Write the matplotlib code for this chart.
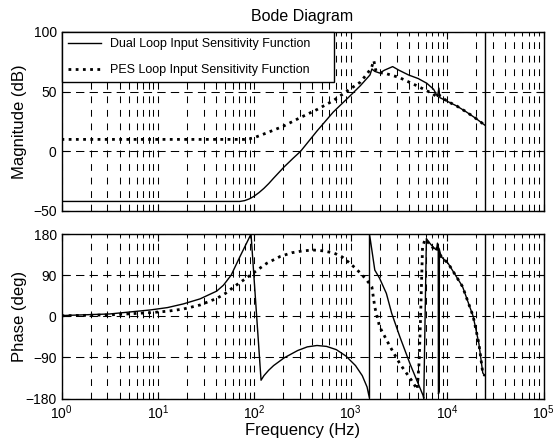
import numpy as np
import matplotlib
matplotlib.use("Agg")
import matplotlib.pyplot as plt
from matplotlib.ticker import LogLocator, FixedLocator, NullFormatter, FuncFormatter

plt.rcParams['font.family'] = ['Liberation Sans', 'DejaVu Sans']
plt.rcParams['mathtext.fontset'] = 'custom'
plt.rcParams['mathtext.rm'] = 'Liberation Sans'
plt.rcParams['mathtext.it'] = 'Liberation Sans'

# ---- data (frequency as log10(Hz)) ----
dual_mag_logf = [0.0, 1.0, 1.6, 1.85, 1.9, 1.95, 2.0, 2.05, 2.1, 2.15, 2.2, 2.31, 2.4, 2.48,
                 2.65, 2.82, 3.0, 3.1, 3.2, 3.22, 3.25, 3.3, 3.35, 3.435, 3.5, 3.6, 3.7, 3.79,
                 3.86, 3.9, 3.915, 3.925, 4.0, 4.1, 4.2, 4.3, 4.39]
dual_mag_db = [-42, -42, -42, -42, -41.3, -39.8, -37.5, -34.5, -31, -27, -22.5, -13, -6, 0,
               17, 33, 47, 55, 64, 69, 67, 65.6, 68, 71, 68, 64, 61, 57,
               52, 46, 53, 45, 42, 38, 33, 27.5, 22]

pes_mag_logf = [0.0, 1.0, 1.6, 1.9, 1.95, 2.0, 2.05, 2.13, 2.3, 2.47, 2.65, 2.82, 2.99, 3.1,
                3.17, 3.215, 3.24, 3.26, 3.28, 3.35, 3.5, 3.685, 3.857, 3.9, 3.92, 4.0, 4.1,
                4.2, 4.3, 4.39]
pes_mag_db = [10, 10, 10, 10, 10.5, 11.5, 13, 15.5, 21, 28, 35, 42.5, 52, 58,
              65, 70, 76, 68, 66, 65.5, 62, 55, 48, 45, 47, 42, 38,
              33, 27.5, 22]

dual_ph_logf = [0.0, 0.5, 0.918, 1.1, 1.264, 1.437, 1.61, 1.68, 1.76, 1.85, 1.92, 1.966,
                2.07, 2.1, 2.15, 2.2, 2.31, 2.45, 2.55, 2.65, 2.75, 2.85, 2.95, 3.05, 3.12,
                3.17, 3.195, 3.195, 3.25, 3.3, 3.37, 3.425, 3.51, 3.615, 3.75, 3.758,
                3.785, 3.82, 3.86, 3.89, 3.9, 3.908, 3.91, 3.918, 3.92, 3.94, 4.01, 4.16,
                4.27, 4.33, 4.37, 4.39]
dual_ph_deg = [1.5, 5, 13.7, 19, 27, 38, 55, 68, 90, 130, 160, 180,
               -140, -130, -118, -108, -91, -75, -67, -64, -66, -73, -87, -108, -130,
               -155, -180, 180, 101, 83, 50, 6.6, -45, -104, -173, -180,
               170, 160, 150, 145, 160, 150, -170, -165, 145, 130, 116, 65,
               0, -60, -124, -130]

pes_ph_logf = [0.0, 0.5, 0.918, 1.1, 1.264, 1.437, 1.61, 1.7, 1.79, 1.88, 1.96, 2.05, 2.13,
               2.27, 2.39, 2.5, 2.61, 2.72, 2.83, 2.91, 2.98, 3.05, 3.12, 3.17, 3.2, 3.22,
               3.25, 3.3, 3.41, 3.51, 3.63, 3.69, 3.71, 3.725, 3.745, 3.77, 3.82, 3.86,
               3.89, 3.9, 3.92, 3.94, 4.01, 4.16, 4.27, 4.33, 4.37, 4.39]
pes_ph_deg = [1, 3, 7.8, 11, 15.8, 24.6, 39, 50, 64.7, 78, 90, 104, 116,
              131, 139, 143, 145, 143, 138, 130, 118, 105, 90, 78, 70, 64,
              20, -23, -67, -104, -140, -160, -100, 0, 150, 168, 158, 148,
              143, 155, 140, 130, 116, 65, 0, -60, -124, -130]

nyquist_hz = 25000
labels = ['Dual Loop Input Sensitivity Function', 'PES Loop Input Sensitivity Function']

W, H = 558, 441
fig = plt.figure(figsize=(W / 100, H / 100), dpi=100)

def box(l, t, r, b):
    return [l / W, 1 - b / H, (r - l) / W, (b - t) / H]

ax1 = fig.add_axes(box(61.5, 32, 543.5, 211))
ax2 = fig.add_axes(box(61.5, 234, 543.5, 398.5))

f = lambda a: 10 ** np.array(a, dtype=float)

l1, = ax1.semilogx(f(dual_mag_logf), dual_mag_db, color='k', lw=1.0)
l2, = ax1.semilogx(f(pes_mag_logf), pes_mag_db, color='k', lw=2.0, ls=(0, (1, 1.6)))
ax2.semilogx(f(dual_ph_logf), dual_ph_deg, color='k', lw=1.0)
ax2.semilogx(f(pes_ph_logf), pes_ph_deg, color='k', lw=2.0, ls=(0, (1, 1.6)))

for ax in (ax1, ax2):
    ax.axvline(nyquist_hz, color='k', lw=1.0)
    ax.set_xlim(1, 1e5)
    ax.xaxis.set_major_locator(FixedLocator([1, 10, 100, 1e3, 1e4, 1e5]))
    ax.xaxis.set_minor_locator(LogLocator(base=10, subs=np.arange(2, 10), numticks=20))
    ax.xaxis.set_minor_formatter(NullFormatter())
    ax.grid(True, which='both', axis='x', color='k', lw=0.75, ls=(0, (6.5, 6.5)))
    ax.grid(True, which='major', axis='y', color='k', lw=0.75, ls=(0, (8, 5)))
    ax.tick_params(which='both', direction='in', top=True, right=True, labelsize=10)
    ax.tick_params(which='major', length=5, width=0.8)
    ax.tick_params(which='minor', length=3, width=0.6)
    for s in ax.spines.values():
        s.set_linewidth(1.0)

ax1.set_ylim(-50, 100)
ax1.set_yticks([-50, 0, 50, 100])
ax1.set_xticklabels([])
ax2.set_ylim(-180, 180)
ax2.set_yticks([-180, -90, 0, 90, 180])
ax2.xaxis.set_major_formatter(FuncFormatter(lambda v, p: r'$\mathregular{10^{%d}}$' % round(np.log10(v))))

ax1.set_ylabel('Magnitude (dB)', fontsize=12)
ax2.set_ylabel('Phase (deg)', fontsize=12)
ax1.yaxis.set_label_coords(-0.072, 0.5)
ax2.yaxis.set_label_coords(-0.072, 0.5)
ax2.set_xlabel('Frequency (Hz)', fontsize=12, labelpad=1)
ax1.set_title('Bode Diagram', fontsize=11.5, pad=8)

leg = ax1.legend([l1, l2], labels, loc='upper left', bbox_to_anchor=(0, 0, 0.566, 1),
                 mode='expand', borderaxespad=0, fancybox=False, framealpha=1,
                 edgecolor='k', fontsize=9, handlelength=2.65, handletextpad=0.7,
                 labelspacing=1.1, borderpad=0.5)
leg.get_frame().set_linewidth(1.0)

fig.savefig('out.png', dpi=100)
